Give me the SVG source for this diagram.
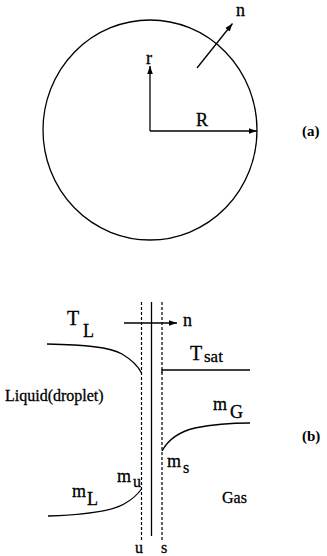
<svg xmlns="http://www.w3.org/2000/svg" width="327" height="556" viewBox="0 0 327 556">
<style>
text{font-family:"Liberation Serif","Times New Roman",serif;fill:#000;stroke:#000;stroke-width:0.3}
.ln{fill:none;stroke:#000;stroke-width:1.3}
.ds{fill:none;stroke:#000;stroke-width:1.2;stroke-dasharray:3 2}
.lb{font-size:18px}
.sm{font-size:16px}
.tg{font-size:15px;font-weight:bold;stroke-width:0}
</style>
<defs>
<marker id="ah" viewBox="0 0 10 10" refX="10" refY="5" markerWidth="8" markerHeight="8" markerUnits="userSpaceOnUse" orient="auto">
<path d="M0,1.5 L10,5 L0,8.5 Z" fill="#000"/>
</marker>
</defs>
<rect width="327" height="556" fill="#fff"/>
<g id="droplet">
<ellipse class="ln" cx="150" cy="130" rx="107" ry="110"/>
</g>
<g id="connectors">
<line class="ln" x1="150" y1="131" x2="150" y2="66" marker-end="url(#ah)"/>
<line class="ln" x1="150" y1="131" x2="257" y2="131" marker-end="url(#ah)"/>
<line class="ln" x1="197" y1="68" x2="232.5" y2="23.5" marker-end="url(#ah)"/>
<line class="ln" x1="124" y1="323" x2="177" y2="323" marker-end="url(#ah)"/>
</g>
<g id="labels-a">
<text class="lb" x="146" y="64">r</text>
<text class="lb" x="196" y="126">R</text>
<text class="lb" x="236" y="16">n</text>
<text class="tg" x="302" y="136">(a)</text>
</g>
<g id="interface">
<line class="ds" x1="141.5" y1="302" x2="141.5" y2="540"/>
<line class="ln" x1="151.5" y1="302" x2="151.5" y2="536"/>
<line class="ds" x1="162" y1="302" x2="162" y2="540"/>
</g>
<g id="profiles">
<path class="ln" d="M47,344 C85,345 110,347 122,354 C132,360 138,366 141.5,373"/>
<path class="ln" d="M162,373 L162,370 L250,370"/>
<path class="ln" d="M162,451 C168,440 178,432 195,428 C215,424 235,423 250,423"/>
<path class="ln" d="M48,516 C80,515 110,512 124,504 C133,499 138,494 141.5,489"/>
</g>
<g id="labels-b">
<text class="lb" x="183" y="326">n</text>
<text font-size="20" x="67" y="325">T</text>
<text font-size="18" x="83" y="337">L</text>
<text font-size="20" x="190" y="360">T</text>
<text font-size="17" x="204" y="362">sat</text>
<text class="sm" x="5" y="401">Liquid(droplet)</text>
<text class="lb" x="213" y="410">m</text>
<text class="lb" x="230" y="418">G</text>
<text class="lb" x="167" y="467">m</text>
<text class="sm" x="183" y="473">s</text>
<text class="lb" x="117" y="482">m</text>
<text class="sm" x="133" y="487">u</text>
<text class="lb" x="72" y="497">m</text>
<text class="lb" x="87" y="505">L</text>
<text class="sm" x="222" y="503">Gas</text>
<text class="sm" x="135" y="553">u</text>
<text class="sm" x="161" y="553">s</text>
<text class="tg" x="302" y="441">(b)</text>
</g>
</svg>
